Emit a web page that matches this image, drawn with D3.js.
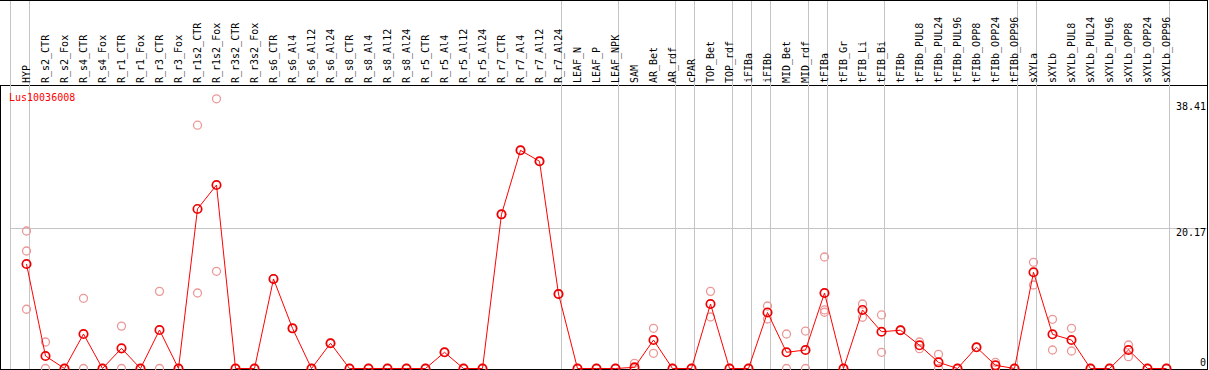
<!DOCTYPE html>
<html>
<head>
<meta charset="utf-8">
<script src="https://cdn.jsdelivr.net/npm/d3@7"></script>
<style>
  body{margin:0;background:#fff;}
  svg text{font-family:"DejaVu Sans Mono",monospace;font-size:10px;}
</style>
</head>
<body>
<svg id="chart"></svg>
<script>
let width = 1209, height = 370;

// columns (conditions)
const samples = ["HYP","R_s2_CTR","R_s2_Fox","R_s4_CTR","R_s4_Fox","R_r1_CTR","R_r1_Fox","R_r3_CTR","R_r3_Fox",
  "R_r1s2_CTR","R_r1s2_Fox","R_r3s2_CTR","R_r3s2_Fox","R_s6_CTR","R_s6_Al4","R_s6_Al12","R_s6_Al24",
  "R_s8_CTR","R_s8_Al4","R_s8_Al12","R_s8_Al24","R_r5_CTR","R_r5_Al4","R_r5_Al12","R_r5_Al24",
  "R_r7_CTR","R_r7_Al4","R_r7_Al12","R_r7_Al24","LEAF_N","LEAF_P","LEAF_NPK","SAM","AR_Bet","AR_rdf",
  "cPAR","TOP_Bet","TOP_rdf","iFIBa","iFIBb","MID_Bet","MID_rdf","tFIBa","tFIB_Gr","tFIB_Li","tFIB_Bi",
  "tFIBb","tFIBb_PUL8","tFIBb_PUL24","tFIBb_PUL96","tFIBb_OPP8","tFIBb_OPP24","tFIBb_OPP96",
  "sXYLa","sXYLb","sXYLb_PUL8","sXYLb_PUL24","sXYLb_PUL96","sXYLb_OPP8","sXYLb_OPP24","sXYLb_OPP96"];

// group separators come after these columns
const groupEnds = ["HYP","R_r7_Al24","LEAF_NPK","AR_rdf","cPAR","TOP_rdf","iFIBa","iFIBb","MID_rdf",
  "tFIBa","tFIB_Bi","tFIBb_OPP96","sXYLa","sXYLb_OPP96"];

const geneName = "Lus10036008";

// mean expression per column
const meanValues = [15.03,1.8,0,4.96,0,2.9,0,5.54,0,22.95,26.4,0,0,12.88,5.78,0,3.63,
  0,0,0,0,0,2.33,0,0,22.18,31.39,29.81,10.72,0,0,0,0.17,4.1,0,
  0,9.28,0,0,8.06,2.33,2.66,10.86,0,8.42,5.29,
  5.5,3.34,0.89,0,3.05,0.46,0,
  13.84,4.92,4.1,0,0,2.66,0,0];

// individual replicate values per column
const replicates = [[19.78,16.9,8.52],[3.81,0],[0,0],[10.1,0],[0,0],[6.1,0],[0,0],[11.1,0],[0,0],
  [35.0,10.86],[38.8,13.98],[0,0],[0,0],[12.88,12.88],[5.78,5.78],[0,0],[3.63,3.63],
  [0,0],[0,0],[0,0],[0,0],[0,0],[2.33,2.33],[0,0],[0,0],[22.18,22.18],[31.39,31.39],[29.81,29.81],[10.72,10.72],
  [0,0],[0,0],[0,0],[0.75,0],[5.78,2.19],[0,0],
  [0,0],[11.1,7.41],[0,0],[0,0],[8.99,7.12],[4.96,0],[5.39,0],[16.04,8.42,8.09],[0,0],[9.28,7.37],[7.7,2.33],
  [5.5,5.5],[3.81,2.85],[2.04,0],[0,0],[3.05,3.05],[0.89,0],[0,0],
  [15.28,12.01],[7.08,2.66],[5.78,2.52],[0,0],[0,0],[3.38,1.7],[0,0],[0,0]];

const yTicks = [38.41, 20.17, 0];

const x = d3.scaleBand().domain(samples).range([10.5, 1169.5]);
const y = d3.scaleLinear().domain([0, 38.41]).range([368.5, 101.5]);
const px = d => x(d) + 16;

const svg = d3.select('#chart').attr('width', width).attr('height', height);

// frame lines
svg.append('line').attr('x1',0).attr('x2',1208).attr('y1',0.5).attr('y2',0.5).attr('stroke','#000');
svg.append('line').attr('x1',0).attr('x2',1208).attr('y1',85.5).attr('y2',85.5).attr('stroke','#000');
svg.append('line').attr('x1',0).attr('x2',1208).attr('y1',369.5).attr('y2',369.5).attr('stroke','#000');
svg.append('line').attr('x1',0.5).attr('x2',0.5).attr('y1',85).attr('y2',370).attr('stroke','#000');
svg.append('line').attr('x1',1207.5).attr('x2',1207.5).attr('y1',0).attr('y2',370).attr('stroke','#000');

// gridline
svg.selectAll('.grid')
  .data(yTicks.filter(t => t > 0 && t < 38.41))
  .join('line')
    .classed('grid', true)
    .attr('x1', 10.5).attr('x2', 1207)
    .attr('y1', d => Math.round(y(d)) + 0.5).attr('y2', d => Math.round(y(d)) + 0.5)
    .attr('stroke', '#c4c4c4');

// group separators (full height)
const seps = [x.range()[0]].concat(groupEnds.map(s => x(s) + x.bandwidth()));
svg.selectAll('.sep')
  .data(seps)
  .join('line')
    .classed('sep', true)
    .attr('x1', d => Math.floor(d) + 0.5).attr('x2', d => Math.floor(d) + 0.5)
    .attr('y1', 1).attr('y2', 369)
    .attr('stroke', '#c4c4c4');

// column labels
svg.selectAll('.lab')
  .data(samples)
  .join('text')
    .classed('lab', true)
    .attr('transform', d => `translate(${x(d) + 19},83) rotate(-90)`)
    .attr('fill', '#000')
    .text(d => d);

// y labels
svg.selectAll('.ylab')
  .data(yTicks)
  .join('text')
    .classed('ylab', true)
    .attr('x', 1206)
    .attr('y', d => d === 0 ? y(d) - 3 : y(d) + 8)
    .attr('text-anchor', 'end')
    .attr('fill', '#000')
    .text(d => d);

svg.append('text').attr('x', 9).attr('y', 101).attr('fill', '#ff0000').text(geneName);

// replicates
const reps = [];
samples.forEach((s, i) => replicates[i].forEach(v => reps.push({s: s, v: v})));
svg.selectAll('.rep')
  .data(reps)
  .join('circle')
    .classed('rep', true)
    .attr('cx', d => px(d.s))
    .attr('cy', d => y(d.v))
    .attr('r', 4)
    .attr('fill', 'none')
    .attr('stroke', '#eb9898')
    .attr('stroke-width', 1.3);

// mean line
const line = d3.line().x((d, i) => px(samples[i])).y(d => y(d));
svg.append('path')
  .attr('d', line(meanValues))
  .attr('fill', 'none')
  .attr('stroke', '#ff0000')
  .attr('stroke-width', 1);

svg.selectAll('.mean')
  .data(meanValues)
  .join('circle')
    .classed('mean', true)
    .attr('cx', (d, i) => px(samples[i]))
    .attr('cy', d => y(d))
    .attr('r', 4.2)
    .attr('fill', 'none')
    .attr('stroke', '#ee0000')
    .attr('stroke-width', 1.7);
</script>
</body>
</html>
